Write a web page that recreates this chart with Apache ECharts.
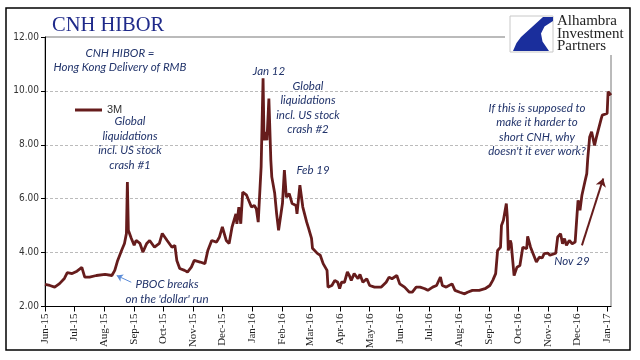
<!DOCTYPE html>
<html>
<head>
<meta charset="utf-8">
<style>html,body{margin:0;padding:0;background:#fff;}#c{width:640px;height:360px;}</style>
<script src="https://cdn.jsdelivr.net/npm/echarts@6/dist/echarts.min.js"></script>
</head>
<body>
<div id="c"></div>
<script>
var seriesName = '3M';
var dates = ['2015-06-01','2015-06-06','2015-06-11','2015-06-16','2015-06-21','2015-06-24','2015-06-29','2015-07-04','2015-07-09','2015-07-12','2015-07-17','2015-07-24','2015-08-02','2015-08-09','2015-08-12','2015-08-15','2015-08-19','2015-08-22','2015-08-24','2015-08-25','2015-08-26','2015-08-29','2015-09-01','2015-09-03','2015-09-07','2015-09-10','2015-09-14','2015-09-17','2015-09-22','2015-09-27','2015-09-30','2015-10-05','2015-10-10','2015-10-13','2015-10-15','2015-10-18','2015-10-23','2015-10-26','2015-10-30','2015-11-02','2015-11-08','2015-11-13','2015-11-16','2015-11-20','2015-11-25','2015-11-28','2015-12-01','2015-12-05','2015-12-08','2015-12-11','2015-12-15','2015-12-16','2015-12-18','2015-12-20','2015-12-22','2015-12-26','2015-12-31','2016-01-03','2016-01-05','2016-01-07','2016-01-10','2016-01-12','2016-01-13','2016-01-15','2016-01-16','2016-01-18','2016-01-20','2016-01-21','2016-01-24','2016-01-26','2016-01-28','2016-02-01','2016-02-03','2016-02-05','2016-02-08','2016-02-11','2016-02-15','2016-02-16','2016-02-19','2016-02-22','2016-02-26','2016-02-28','2016-03-02','2016-03-03','2016-03-05','2016-03-08','2016-03-11','2016-03-14','2016-03-18','2016-03-19','2016-03-23','2016-03-26','2016-03-29','2016-03-31','2016-04-02','2016-04-05','2016-04-08','2016-04-10','2016-04-12','2016-04-15','2016-04-19','2016-04-21','2016-04-24','2016-04-28','2016-05-01','2016-05-06','2016-05-13','2016-05-18','2016-05-21','2016-05-24','2016-05-29','2016-06-01','2016-06-06','2016-06-11','2016-06-14','2016-06-18','2016-06-22','2016-06-24','2016-06-27','2016-06-30','2016-07-05','2016-07-09','2016-07-13','2016-07-15','2016-07-19','2016-07-25','2016-07-28','2016-08-02','2016-08-07','2016-08-10','2016-08-15','2016-08-22','2016-08-28','2016-09-02','2016-09-05','2016-09-08','2016-09-10','2016-09-13','2016-09-14','2016-09-16','2016-09-19','2016-09-20','2016-09-21','2016-09-23','2016-09-24','2016-09-27','2016-09-30','2016-10-03','2016-10-06','2016-10-10','2016-10-11','2016-10-14','2016-10-16','2016-10-20','2016-10-23','2016-10-26','2016-10-28','2016-11-01','2016-11-03','2016-11-05','2016-11-09','2016-11-11','2016-11-14','2016-11-16','2016-11-18','2016-11-20','2016-11-23','2016-11-26','2016-11-29','2016-12-01','2016-12-02','2016-12-04','2016-12-06','2016-12-07','2016-12-09','2016-12-11','2016-12-12','2016-12-14','2016-12-16','2016-12-17','2016-12-19','2016-12-21','2016-12-23','2016-12-26','2016-12-27','2016-12-29','2017-01-01','2017-01-02','2017-01-03','2017-01-05'];
var hibor3m = [2.82,2.78,2.72,2.85,3.04,3.26,3.22,3.31,3.45,3.09,3.09,3.15,3.19,3.15,3.34,3.71,4.08,4.34,4.71,6.62,4.83,4.53,4.27,4.45,4.34,4.02,4.34,4.45,4.20,4.34,4.71,4.45,4.20,4.27,3.71,3.41,3.34,3.28,3.46,3.71,3.65,3.59,4.08,4.45,4.39,4.58,4.95,4.45,4.34,4.95,5.44,5.07,5.69,5.07,6.25,6.13,5.69,5.75,5.63,5.13,7.18,10.47,8.17,8.48,8.17,9.72,7.43,6.81,6.20,5.44,4.83,5.82,7.06,6.06,6.19,5.82,5.75,5.44,6.50,5.69,5.13,4.90,4.53,4.16,4.20,3.97,3.90,3.59,3.34,2.72,2.78,2.97,2.90,2.66,2.90,2.90,3.28,3.15,2.97,3.22,3.03,3.19,2.90,3.03,2.78,2.72,2.72,2.90,3.09,3.03,3.15,2.84,2.72,2.53,2.53,2.72,2.72,2.66,2.66,2.60,2.72,2.78,3.09,2.78,2.72,2.84,2.60,2.53,2.47,2.53,2.60,2.60,2.66,2.78,2.97,3.22,4.08,4.20,5.01,5.20,5.82,5.32,4.08,4.45,4.34,3.15,3.46,3.52,4.20,4.15,4.60,4.20,4.15,3.65,3.83,3.80,3.96,3.98,3.90,3.93,3.98,4.58,4.70,4.33,4.52,4.27,4.45,4.33,4.39,5.44,5.94,5.57,6.13,6.13,6.62,6.93,7.49,8.29,8.48,8.42,7.98,8.29,8.36,8.98,9.10,9.16,9.16,9.97,10.03,9.84];
var monthTicks = ['2015-06-01','2015-07-01','2015-08-01','2015-09-01','2015-10-01','2015-11-01','2015-12-01','2016-01-01','2016-02-01','2016-03-01','2016-04-01','2016-05-01','2016-06-01','2016-07-01','2016-08-01','2016-09-01','2016-10-01','2016-11-01','2016-12-01','2017-01-01'];
var monthNames = ['Jan','Feb','Mar','Apr','May','Jun','Jul','Aug','Sep','Oct','Nov','Dec'];
var yMin = 2, yMax = 12, yStep = 2;
var xMin = '2015-06-01', xMax = '2017-01-05';

function ts(s) { return Date.parse(s + 'T00:00:00Z'); }
var chart = echarts.init(document.getElementById('c'), null, {renderer: 'canvas'});
var tickTimes = monthTicks.map(ts);
var pairs = dates.map(function (d, i) { return [ts(d), hibor3m[i]]; });
var maroon = '#661C1C';
var navy = '#22346B';
var annFont = 'italic 11.5px Lato, "Open Sans", sans-serif';

var option = {
  animation: false,
  backgroundColor: '#fff',
  grid: {left: 45, right: 29, top: 37, bottom: 53.5, show: true, borderColor: '#777', borderWidth: 1},
  legend: {
    left: 70, top: 99.5, itemWidth: 27, itemHeight: 3, itemGap: 4, icon: 'rect',
    data: [seriesName],
    textStyle: {fontFamily: 'Liberation Sans, Arial, sans-serif', fontSize: 11, color: '#333'}
  },
  xAxis: {
    type: 'value', min: ts(xMin), max: ts(xMax), scale: true,
    axisLine: {show: true, onZero: false, lineStyle: {color: '#000', width: 1}},
    axisTick: {show: true, length: 5, lineStyle: {color: '#000'}, customValues: tickTimes},
    axisLabel: {
      customValues: tickTimes, rotate: 90, margin: 7, showMinLabel: true, showMaxLabel: true,
      fontFamily: 'Liberation Serif, "Times New Roman", serif', fontSize: 11, color: '#222',
      formatter: function (v) {
        var d = new Date(v);
        return monthNames[d.getUTCMonth()] + '-' + String(d.getUTCFullYear()).slice(2);
      }
    },
    splitLine: {show: false}, minorTick: {show: false}
  },
  yAxis: {
    type: 'value', min: yMin, max: yMax, interval: yStep,
    axisLine: {show: true, lineStyle: {color: '#000', width: 1}},
    axisTick: {show: true, length: 4, lineStyle: {color: '#000'}},
    axisLabel: {
      margin: 6, fontFamily: '"DejaVu Sans Condensed", "DejaVu Sans", sans-serif', fontSize: 10, color: '#333',
      formatter: function (v) { return v.toFixed(2); }
    },
    splitLine: {show: true, lineStyle: {color: '#BBB', type: [3, 2], width: 1}}
  },
  series: [{
    name: seriesName, type: 'line', data: pairs, symbol: 'none', showSymbol: false,
    lineStyle: {color: maroon, width: 2.8}, itemStyle: {color: maroon},
    markLine: {
      silent: true, animation: false, label: {show: false},
      data: [
        [{coord: [ts('2016-12-06'), 4.27], symbol: 'none', lineStyle: {color: maroon, width: 2, type: 'solid'}},
         {coord: [ts('2016-12-28'), 6.75], symbol: 'arrow', symbolSize: 8}],
        [{coord: [ts('2015-08-29'), 2.90], symbol: 'none', lineStyle: {color: '#5B8CD8', width: 1, type: 'solid'}},
         {coord: [ts('2015-08-14'), 3.15], symbol: 'arrow', symbolSize: 6}]
      ]
    }
  }],
  graphic: [
    {type: 'rect', z: 100, shape: {x: 6, y: 8, width: 624, height: 342}, style: {fill: 'none', stroke: '#000', lineWidth: 1.5}},
    {type: 'text', z: 100, style: {text: 'CNH HIBOR', x: 52, y: 36, textVerticalAlign: 'bottom', font: '20.5px "Liberation Serif", "Times New Roman", serif', fill: '#1F2A8A'}},
    {type: 'rect', z: 90, shape: {x: 505, y: 9.5, width: 124, height: 45.5}, style: {fill: '#fff', stroke: 'none'}},
    {type: 'rect', z: 95, shape: {x: 510, y: 16, width: 43, height: 36}, style: {fill: '#fff', stroke: '#C8C8C8', lineWidth: 1}},
    {type: 'polygon', z: 96, shape: {points: [[543,17],[553,17],[553,21],[544.5,26.6],[541,33.5],[542.5,41.6],[549,51],[513,51],[516.5,43],[521,37]]}, style: {fill: '#1A2E9C'}},
    {type: 'text', z: 96, style: {text: 'Alhambra\nInvestment\nPartners', x: 557, y: 34, textVerticalAlign: 'middle', lineHeight: 12.5, font: '15px "Liberation Serif", "Times New Roman", serif', fill: '#222'}},
    {type: 'text', z: 80, style: {text: 'CNH HIBOR =\nHong Kong Delivery of RMB', x: 120, y: 60, textAlign: 'center', textVerticalAlign: 'middle', lineHeight: 14, font: annFont, fill: navy}},
    {type: 'text', z: 80, style: {text: 'Global\nliquidations\nincl. US stock\ncrash #1', x: 130, y: 143.5, textAlign: 'center', textVerticalAlign: 'middle', lineHeight: 14.5, font: annFont, fill: navy}},
    {type: 'text', z: 80, style: {text: 'Jan 12', x: 269, y: 71, textAlign: 'center', textVerticalAlign: 'middle', font: annFont, fill: navy}},
    {type: 'text', z: 80, style: {text: 'Global\nliquidations\nincl. US stock\ncrash #2', x: 308, y: 108, textAlign: 'center', textVerticalAlign: 'middle', lineHeight: 14.5, font: annFont, fill: navy}},
    {type: 'text', z: 80, style: {text: 'Feb 19', x: 313, y: 170, textAlign: 'center', textVerticalAlign: 'middle', font: annFont, fill: navy}},
    {type: 'text', z: 80, style: {text: 'PBOC breaks\non the \'dollar\' run', x: 167, y: 292, textAlign: 'center', textVerticalAlign: 'middle', lineHeight: 14.5, font: annFont, fill: navy}},
    {type: 'text', z: 80, style: {text: 'If this is supposed to\nmake it harder to\nshort CNH, why\ndoesn\'t it ever work?', x: 537, y: 130, textAlign: 'center', textVerticalAlign: 'middle', lineHeight: 14.5, font: annFont, fill: navy}},
    {type: 'text', z: 80, style: {text: 'Nov 29', x: 572, y: 261, textAlign: 'center', textVerticalAlign: 'middle', font: annFont, fill: navy}}
  ]
};
chart.setOption(option);
</script>
</body>
</html>
